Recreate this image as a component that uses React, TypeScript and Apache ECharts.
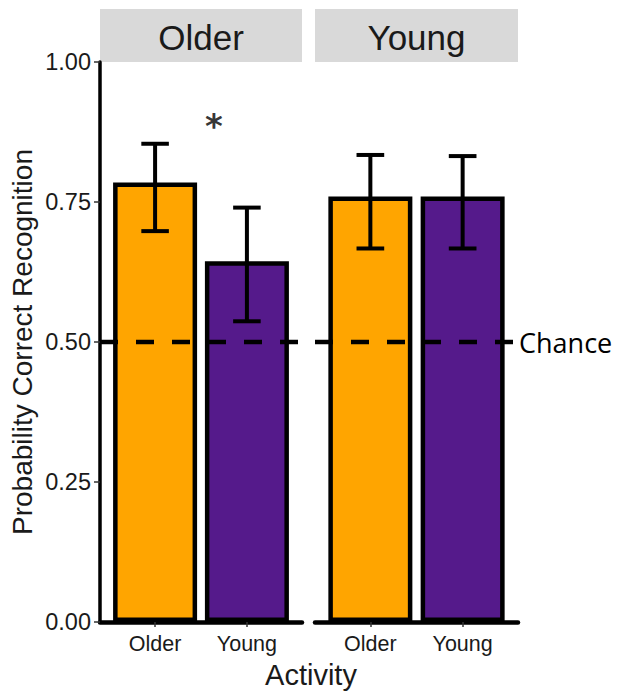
import React, { useEffect, useRef } from "react";
import * as echarts from "echarts";

const facets = ["Older", "Young"];
const activities = ["Older", "Young"];
const barColors = ["#FFA500", "#551A8B"];

const olderFacetMean = [0.785, 0.644];
const olderFacetLow = [0.698, 0.537];
const olderFacetHigh = [0.854, 0.74];

const youngFacetMean = [0.76, 0.76];
const youngFacetLow = [0.667, 0.667];
const youngFacetHigh = [0.834, 0.832];

const chanceLevel = 0.5;
const chanceLabel = "Chance";
const significance = [{ facet: 0, x: 1.64, y: 0.886, text: "*" }];

const FONT = "Liberation Sans";
const CAL = "Open Sans";

export default function App() {
  const ref = useRef<HTMLDivElement>(null);
  useEffect(() => {
    if (!ref.current) return;
    const chart = echarts.init(ref.current, undefined, { renderer: "svg" });

    const means = [olderFacetMean, youngFacetMean];
    const lows = [olderFacetLow, youngFacetLow];
    const highs = [olderFacetHigh, youngFacetHigh];

    const grids = [
      { left: 100, width: 202, top: 62, bottom: 69 },
      { left: 315, width: 203, top: 62, bottom: 69 },
    ];

    const xAxes = grids.map((_, i) => ({
      type: "value",
      gridIndex: i,
      min: 0.4,
      max: 2.6,
      splitLine: { show: false },
      axisLine: { show: true, lineStyle: { color: "#000", width: 4.5 } },
      axisTick: {
        show: true,
        customValues: [1, 2],
        length: 5,
        lineStyle: { color: "#333", width: 1.5 },
      },
      axisLabel: {
        customValues: [1, 2],
        formatter: (v: number) => activities[Math.round(v) - 1] ?? "",
        color: "#1a1a1a",
        fontSize: 21.5,
        fontFamily: FONT,
        margin: 11,
      },
    }));

    const yAxes = grids.map((_, i) => ({
      type: "value",
      gridIndex: i,
      min: 0,
      max: 1,
      interval: 0.25,
      show: i === 0,
      splitLine: { show: false },
      axisLine: { show: true, lineStyle: { color: "#000", width: 3.5 } },
      axisTick: { show: true, length: 6, lineStyle: { color: "#333", width: 1.5 } },
      axisLabel: {
        formatter: (v: number) => v.toFixed(2),
        color: "#1a1a1a",
        fontSize: 23.5,
        fontFamily: FONT,
        margin: 9,
      },
      name: i === 0 ? "Probability Correct Recognition" : "",
      nameLocation: "middle",
      nameRotate: 90,
      nameGap: 64,
      nameTextStyle: { color: "#1a1a1a", fontSize: 28, fontFamily: FONT },
    }));

    const series: any[] = [];
    facets.forEach((_, i) => {
      series.push({
        type: "bar",
        xAxisIndex: i,
        yAxisIndex: i,
        barWidth: 84,
        z: 2,
        data: means[i].map((v, k) => ({
          value: [k + 1, v],
          itemStyle: { color: barColors[k], borderColor: "#000", borderWidth: 4.5 },
        })),
      });
      series.push({
        type: "custom",
        xAxisIndex: i,
        yAxisIndex: i,
        z: 5,
        data: means[i].map((_, k) => [k + 1, lows[i][k], highs[i][k]]),
        renderItem: (params: any, api: any) => {
          const x = api.value(0);
          const lo = api.coord([x, api.value(1)]);
          const hi = api.coord([x, api.value(2)]);
          const l = api.coord([x - 0.15, api.value(1)]);
          const r = api.coord([x + 0.15, api.value(1)]);
          const halfW = (r[0] - l[0]) / 2;
          const style = { stroke: "#000", lineWidth: 4 };
          return {
            type: "group",
            children: [
              { type: "line", shape: { x1: lo[0], y1: lo[1], x2: hi[0], y2: hi[1] }, style },
              { type: "line", shape: { x1: hi[0] - halfW, y1: hi[1], x2: hi[0] + halfW, y2: hi[1] }, style },
              { type: "line", shape: { x1: lo[0] - halfW, y1: lo[1], x2: lo[0] + halfW, y2: lo[1] }, style },
            ],
          };
        },
      });
      // chance reference line across the whole panel, dashed (18 on / 18 off)
      series.push({
        type: "custom",
        xAxisIndex: i,
        yAxisIndex: i,
        z: 8,
        silent: true,
        data: [[0.4, 2.6, chanceLevel]],
        renderItem: (params: any, api: any) => {
          const a = api.coord([api.value(0), api.value(2)]);
          const b = api.coord([api.value(1), api.value(2)]);
          const children: any[] = [];
          for (let s = a[0]; s < b[0]; s += 36) {
            children.push({
              type: "line",
              shape: { x1: s, y1: a[1], x2: Math.min(s + 18, b[0]), y2: a[1] },
              style: { stroke: "#000", lineWidth: 4.5 },
            });
          }
          if (i === 1) {
            children.push({
              type: "text",
              x: b[0] + 1,
              y: b[1],
              style: {
                text: chanceLabel,
                fill: "#000",
                fontSize: 27,
                fontFamily: CAL,
                textAlign: "left",
                textVerticalAlign: "middle",
              },
            });
          }
          return { type: "group", children };
        },
      });
    });

    significance.forEach((s) => {
      series.push({
        type: "scatter",
        xAxisIndex: s.facet,
        yAxisIndex: s.facet,
        symbolSize: 0,
        data: [[s.x, s.y]],
        label: {
          show: true,
          position: "inside",
          formatter: s.text,
          color: "#000",
          fontSize: 34,
          fontWeight: "bold",
          fontFamily: "DejaVu Sans",
        },
      });
    });

    const graphic: any[] = [];
    grids.forEach((g, i) => {
      graphic.push({
        type: "rect",
        shape: { x: g.left, y: 9, width: g.width, height: 53 },
        style: { fill: "#D9D9D9" },
      });
      graphic.push({
        type: "text",
        x: g.left + g.width / 2,
        y: 37,
        style: {
          text: facets[i],
          fill: "#1a1a1a",
          fontSize: 35,
          fontFamily: FONT,
          textAlign: "center",
          textVerticalAlign: "middle",
        },
      });
    });
    graphic.push({
      type: "text",
      x: 311,
      y: 675,
      style: {
        text: "Activity",
        fill: "#1a1a1a",
        fontSize: 29,
        fontFamily: FONT,
        textAlign: "center",
        textVerticalAlign: "middle",
      },
    });

    chart.setOption({
      animation: false,
      backgroundColor: "#fff",
      grid: grids,
      xAxis: xAxes,
      yAxis: yAxes,
      series,
      graphic,
    });
    return () => chart.dispose();
  }, []);
  return <div ref={ref} style={{ width: 617, height: 691, position: "absolute", left: 0, top: 0 }} />;
}
